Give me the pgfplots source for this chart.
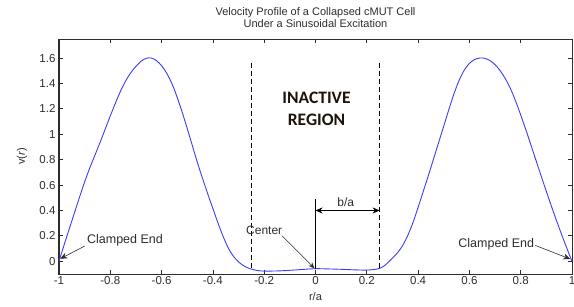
\documentclass[border=0pt]{standalone}
\usepackage{pgfplots}
\pgfplotsset{compat=1.18}
\usepackage{fontspec}
\setmainfont{Liberation Sans}
\newfontfamily\calfont{Carlito}
\usetikzlibrary{arrows.meta}
\definecolor{txt}{RGB}{45,45,45}
\definecolor{curve}{RGB}{60,60,245}
\begin{document}
\begin{tikzpicture}
\begin{axis}[
  name=ax,
  scale only axis,
  width=513pt, height=235pt,
  xmin=-1, xmax=1, ymin=-0.1, ymax=1.75,
  xtick={-1,-0.8,-0.6,-0.4,-0.2,0,0.2,0.4,0.6,0.8,1},
  xticklabels={-1,-0.8,-0.6,-0.4,-0.2,0,0.2,0.4,0.6,0.8,1},
  ytick={0,0.2,0.4,0.6,0.8,1,1.2,1.4,1.6},
  yticklabels={0,0.2,0.4,0.6,0.8,1,1.2,1.4,1.6},
  tick align=inside,
  major tick length=4pt,
  tick style={txt, line width=0.8pt},
  axis line style={txt, line width=1pt},
  ticklabel style={font=\fontsize{11.5}{13}\selectfont, text=txt},
  xticklabel style={yshift=1pt},
  title={Velocity Profile of a Collapsed cMUT Cell\\Under a Sinusoidal Excitation},
  title style={font=\fontsize{11}{12}\selectfont, text=txt, align=center, at={(axis description cs:0.5,1)}, anchor=south, yshift=2pt},
  xlabel={r/a},
  xlabel style={font=\fontsize{11}{12}\selectfont, text=txt, at={(axis description cs:0.5,-0.098)}, anchor=center},
  ylabel={v(\textit{r})},
  ylabel style={font=\fontsize{11}{12}\selectfont, text=txt, at={(axis description cs:-0.072,0.5)}, anchor=center},
  clip=false,
]
\addplot[curve, line width=0.9pt, smooth] coordinates {
(-1.00,0.00) (-0.98,0.13) (-0.96,0.255) (-0.94,0.38) (-0.92,0.505) (-0.90,0.625)
(-0.88,0.735) (-0.86,0.835) (-0.84,0.935) (-0.82,1.04) (-0.80,1.145) (-0.78,1.245)
(-0.76,1.34) (-0.74,1.42) (-0.72,1.485) (-0.70,1.535) (-0.68,1.575) (-0.66,1.598)
(-0.64,1.60) (-0.62,1.58) (-0.60,1.54) (-0.58,1.48) (-0.56,1.40) (-0.54,1.295)
(-0.52,1.175) (-0.50,1.045) (-0.48,0.91) (-0.46,0.775) (-0.44,0.65) (-0.42,0.53)
(-0.40,0.415) (-0.38,0.30) (-0.36,0.195) (-0.34,0.105) (-0.32,0.04) (-0.30,-0.005)
(-0.28,-0.035) (-0.26,-0.055) (-0.24,-0.067) (-0.22,-0.074) (-0.20,-0.077)
(-0.15,-0.076) (-0.10,-0.071) (-0.05,-0.064) (0.00,-0.058) (0.05,-0.060)
(0.10,-0.063) (0.15,-0.067) (0.20,-0.069) (0.24,-0.061) (0.26,-0.046)
(0.28,-0.015) (0.30,0.025) (0.32,0.068) (0.34,0.125) (0.36,0.205) (0.38,0.305)
(0.40,0.425) (0.42,0.55) (0.44,0.675) (0.46,0.805) (0.48,0.935) (0.50,1.065)
(0.52,1.195) (0.54,1.320) (0.56,1.425) (0.58,1.505) (0.60,1.558) (0.62,1.588)
(0.64,1.600) (0.66,1.598) (0.68,1.580) (0.70,1.548) (0.72,1.500) (0.74,1.438)
(0.76,1.360) (0.78,1.262) (0.80,1.152) (0.82,1.036) (0.84,0.915) (0.86,0.792)
(0.88,0.670) (0.90,0.550) (0.92,0.432) (0.94,0.318) (0.96,0.208) (0.98,0.102)
(1.00,0.000)
};
% dashed boundaries
\draw[black, line width=1.4pt, dash pattern=on 5pt off 3pt] (axis cs:-0.25,1.565) -- (axis cs:-0.25,-0.066);
\draw[black, line width=1.4pt, dash pattern=on 5pt off 3pt] (axis cs:0.25,1.565) -- (axis cs:0.25,-0.058);
% center line
\draw[black, line width=0.9pt] (axis cs:0,0.49) -- (axis cs:0,-0.058);
% b/a arrow
\draw[black, line width=0.7pt, {Stealth[length=7pt,width=6pt]}-{Stealth[length=7pt,width=6pt]}] (axis cs:0,0.40) -- (axis cs:0.25,0.40);
\node[font=\fontsize{12}{13}\selectfont, text=txt, anchor=south] at (axis cs:0.118,0.405) {b/a};
% INACTIVE REGION
\node[font=\calfont\bfseries\fontsize{17.5}{20}\selectfont, text=black!85!brown, align=center] at (axis cs:0.004,1.20) {INACTIVE\\[2pt]REGION};
% Center
\node[font=\fontsize{12}{13}\selectfont, text=txt] at (axis cs:-0.20,0.24) {Center};
\draw[txt, line width=0.6pt, -{Stealth[length=6pt,width=5pt]}] (axis cs:-0.13,0.20) -- (axis cs:-0.004,-0.055);
% Clamped ends
\node[font=\fontsize{12.5}{14}\selectfont, text=txt, anchor=west, inner sep=1pt] at (axis cs:-0.895,0.164) {Clamped End};
\draw[txt, line width=0.6pt, -{Stealth[length=7pt,width=6pt]}] (axis cs:-0.90,0.12) -- (axis cs:-0.995,0.02);
\node[font=\fontsize{12.5}{14}\selectfont, text=txt, anchor=east, inner sep=1pt] at (axis cs:0.857,0.135) {Clamped End};
\draw[txt, line width=0.6pt, -{Stealth[length=7pt,width=6pt]}] (axis cs:0.857,0.125) -- (axis cs:0.993,0.018);
\end{axis}
\pgfresetboundingbox
\path ([shift={(-59pt,-32pt)}]ax.south west) rectangle ([shift={(2pt,39pt)}]ax.north east);
\end{tikzpicture}
\end{document}
